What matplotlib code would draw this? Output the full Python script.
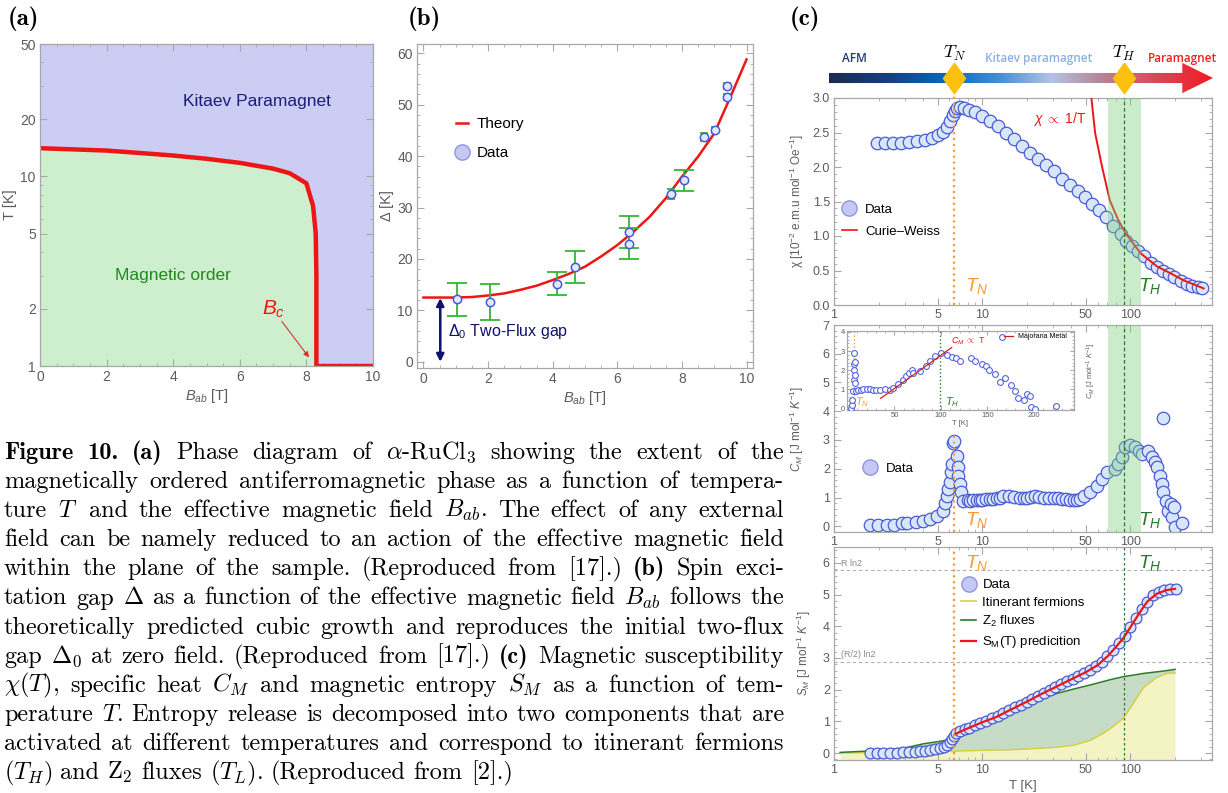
# -*- coding: utf-8 -*-
"""
Figure 10 - alpha-RuCl3: (a) phase diagram, (b) gap vs field, (c) chi / C_M / S_M vs T
"""
import numpy as np
import matplotlib
matplotlib.use("Agg")
import matplotlib.pyplot as plt
import matplotlib.transforms as mtransforms
from matplotlib.lines import Line2D
from matplotlib.patches import Polygon
from matplotlib.colors import LinearSegmentedColormap
from matplotlib.ticker import FixedLocator, NullFormatter, FormatStrFormatter, MultipleLocator

# ==============================================================================
# 1. data
# ==============================================================================
# (a) phase boundary T_c(B)
B_phase = [0, 1, 2, 3, 4, 5, 6, 7, 7.5, 8.0, 8.2, 8.28, 8.3, 8.3, 10.0]
T_phase = [14.1, 13.9, 13.7, 13.3, 12.9, 12.4, 11.8, 11.0, 10.4, 9.2, 7.0, 5.0, 3.0, 1.0, 1.0]

# (b) spin gap vs in-plane field
B_data = [1.04, 2.07, 4.13, 4.69, 6.35, 6.35, 7.65, 8.05, 8.69, 9.02, 9.38, 9.38]
gap_data = [12.2, 11.6, 15.2, 18.4, 25.3, 23.0, 32.7, 35.3, 43.7, 45.0, 53.7, 51.5]
gap_err = [3.2, 3.5, 2.3, 3.1, 3.1, 3.0, 1.0, 2.0, 0.7, 0.6, 0.6, 0.6]
B_theory = [0, 0.5, 1, 1.5, 2, 2.5, 3, 3.5, 4, 4.5, 5, 5.5, 6, 6.5, 7, 7.5, 8, 8.5, 9, 9.5, 10]
gap_theory = [12.5, 12.5, 12.5, 12.6, 12.9, 13.3, 14.0, 14.8, 15.9, 17.1, 18.5, 20.5, 22.7,
              25.3, 28.2, 31.8, 36.0, 39.9, 44.4, 51.5, 58.8]
gap0 = 12.4

# (c) characteristic temperatures
T_N = 6.5
T_H = 90.0
T_band = [71.0, 117.0]

# (c) susceptibility
T_chi = [1.95, 2.21, 2.50, 2.84, 3.21, 3.64, 4.12, 4.59, 5.04, 5.45, 5.80, 6.08, 6.37, 6.57,
         6.78, 7.10, 7.56, 8.17, 8.97, 10.0, 11.3, 12.8, 14.5, 16.5, 18.6, 21.1, 23.9, 27.1,
         30.7, 34.7, 39.3, 44.5, 49.7, 55.4, 61.8, 68.9, 76.8, 85.7, 94.0, 103, 113, 124,
         137, 150, 165, 181, 198, 218, 239, 262, 284, 306]
chi = [2.35, 2.35, 2.35, 2.35, 2.36, 2.37, 2.39, 2.42, 2.46, 2.51, 2.58, 2.66, 2.75, 2.81,
       2.85, 2.87, 2.86, 2.83, 2.79, 2.74, 2.67, 2.59, 2.50, 2.41, 2.31, 2.21, 2.12, 2.03,
       1.94, 1.83, 1.74, 1.65, 1.57, 1.47, 1.38, 1.27, 1.15, 1.03, 0.93, 0.85, 0.78, 0.71,
       0.61, 0.55, 0.50, 0.45, 0.40, 0.35, 0.31, 0.28, 0.26, 0.24]
T_cw = [54.5, 57.8, 64.4, 72.5, 82, 92.8, 117, 151, 190, 227, 312]
chi_cw = [3.0, 2.49, 2.0, 1.52, 1.25, 1.04, 0.75, 0.56, 0.45, 0.36, 0.24]

# (c) specific heat
T_cm = [1.75, 1.99, 2.27, 2.55, 2.87, 3.13, 3.58, 3.97, 4.45, 4.94, 5.42, 5.64, 5.77, 5.91,
        6.07, 6.20, 6.30, 6.40, 6.50, 6.74, 6.83, 6.90, 7.05, 7.20, 7.47, 8.0, 8.3, 8.7,
        9.2, 9.6, 10.0, 10.6, 11.2, 11.8, 12.5, 13.2, 13.9, 15.1, 16.5, 18.0, 19.0, 20.0,
        21.3, 22.8, 24.3, 26.0, 28.0, 30.3, 32.3, 34.5, 36.8, 39.3, 41.3, 43.6, 46.0, 48.5,
        53.5, 59.3, 64.4, 69.6, 79.0, 83.0, 88.0, 92.4, 100, 108, 114, 120, 132, 139, 146,
        150, 158, 163, 165, 167, 175, 179, 187, 191, 196, 200, 222]
C_cm = [0.05, 0.05, 0.04, 0.06, 0.12, 0.12, 0.14, 0.20, 0.25, 0.37, 0.54, 0.80, 1.06, 1.30,
        1.53, 1.88, 2.16, 2.88, 2.95, 2.45, 2.05, 1.76, 1.47, 1.18, 0.87, 0.90, 0.89, 0.92,
        0.93, 0.92, 0.93, 0.94, 0.95, 0.96, 0.98, 1.00, 1.04, 1.05, 1.03, 0.98, 1.00, 1.00,
        1.03, 1.04, 1.02, 1.00, 0.99, 0.98, 0.97, 0.95, 0.94, 0.93, 0.92, 0.91, 0.96, 1.06,
        1.18, 1.41, 1.64, 1.88, 1.99, 2.16, 2.40, 2.74, 2.84, 2.77, 2.63, 2.51, 2.63, 2.40,
        2.22, 2.05, 1.76, 1.47, 3.76, 1.18, 0.89, 0.54, 0.78, 0.31, 0.66, -0.03, 0.12]

# (c) inset, linear T
T_in = [3.2, 4.2, 4.9, 5.6, 6.0, 6.3, 6.7, 7.0, 7.2, 7.4, 7.7, 8.5, 11.3, 14.0, 16.5, 20.0,
        23.6, 27.0, 30.6, 34.0, 39.4, 44.7, 48.0, 53.5, 58.8, 62.3, 65.8, 69.4, 70.4, 78.0,
        83.5, 88.7, 94.0, 100, 106, 111.6, 116, 120.4, 132.7, 137, 144, 148, 152, 158.5,
        163, 165.5, 169, 175, 180, 183, 189, 192.6, 196, 197, 200.7, 223.6]
C_in = [0.05, 0.2, 0.47, 0.9, 1.5, 2.0, 2.34, 2.9, 2.45, 1.75, 1.32, 0.9, 0.95, 0.98, 1.03,
        1.03, 1.02, 0.98, 0.95, 0.95, 1.02, 0.98, 1.1, 1.27, 1.49, 1.7, 1.88, 2.0, 1.86,
        1.97, 2.2, 2.47, 2.76, 2.88, 2.8, 2.68, 2.63, 2.51, 2.63, 2.46, 2.34, 2.22, 2.0, 1.8,
        1.41, 3.73, 1.58, 1.24, 0.9, 0.54, 0.44, 0.78, 0.64, 0.07, -0.03, 0.14]
T_maj = [35.2, 111.6]
C_maj = [0.54, 3.19]
T_N_in = 6.7
T_H_in = 99.0

# (c) entropy
T_S = [1.75, 1.95, 2.15, 2.4, 2.65, 2.9, 3.2, 3.5, 3.8, 4.1, 4.45, 4.8, 5.15, 5.5, 5.8, 6.05,
       6.25, 6.45, 6.7, 7.1, 7.6, 8.2, 8.9, 9.7, 10.6, 11.6, 12.7, 13.9, 15.2, 16.6, 18.2,
       19.9, 21.8, 23.8, 26, 28.5, 31.2, 34.1, 37.3, 40.8, 44.6, 48.8, 53.4, 58.4, 63.8,
       69.8, 76.3, 83.4, 91.2, 99.7, 109, 119, 130, 142, 155, 169, 185, 202]
S_S = [0.0, 0.0, 0.0, 0.0, 0.01, 0.02, 0.03, 0.04, 0.06, 0.07, 0.09, 0.12, 0.15, 0.19, 0.26,
       0.34, 0.44, 0.55, 0.63, 0.70, 0.75, 0.80, 0.87, 0.94, 1.01, 1.09, 1.17, 1.26, 1.35,
       1.44, 1.53, 1.62, 1.71, 1.81, 1.90, 1.99, 2.08, 2.17, 2.26, 2.35, 2.44, 2.53, 2.62,
       2.74, 2.88, 3.05, 3.25, 3.47, 3.70, 3.97, 4.25, 4.53, 4.78, 4.97, 5.08, 5.14, 5.18,
       5.16]
T_pred = [6.5, 7.0, 8.0, 10, 12.5, 15, 20, 25, 30, 40, 50, 60, 70, 80, 90, 100, 115, 130,
          150, 175, 200]
S_pred = [0.58, 0.66, 0.78, 0.97, 1.14, 1.33, 1.62, 1.86, 2.04, 2.33, 2.55, 2.77, 3.05, 3.35,
          3.64, 3.97, 4.42, 4.78, 5.02, 5.14, 5.18]
T_comp = [1.1, 1.5, 2.0, 3.0, 4.0, 5.2, 6.4, 6.6, 7.5, 9.2, 11.3, 14.7, 19, 24.7, 31.9, 41.5,
          53.8, 66, 77, 90, 105, 122, 150, 176, 200]
S_z2 = [0.02, 0.05, 0.08, 0.16, 0.29, 0.37, 0.45, 0.55, 0.66, 0.84, 1.01, 1.24, 1.49, 1.70,
        1.88, 2.02, 2.15, 2.26, 2.34, 2.41, 2.46, 2.51, 2.56, 2.60, 2.64]
S_itin = [0.0, 0.01, 0.02, 0.03, 0.04, 0.05, 0.06, 0.06, 0.07, 0.08, 0.09, 0.1, 0.12, 0.15,
          0.18, 0.25, 0.4, 0.63, 0.85, 1.11, 1.58, 2.06, 2.38, 2.51, 2.53]
R_ln2 = 8.314 * np.log(2)

# caption ('§' marks bold words)
caption_lines = [
    r"§Figure §10. §(a) Phase diagram of $\alpha$-RuCl$_3$ showing the extent of the",
    r"magnetically ordered antiferromagnetic phase as a function of tempera-",
    r"ture $T$ and the effective magnetic field $B_{ab}$. The effect of any external",
    r"field can be namely reduced to an action of the effective magnetic field",
    r"within the plane of the sample. (Reproduced from [17].) §(b) Spin exci-",
    r"tation gap $\Delta$ as a function of the effective magnetic field $B_{ab}$ follows the",
    r"theoretically predicted cubic growth and reproduces the initial two-flux",
    r"gap $\Delta_0$ at zero field. (Reproduced from [17].) §(c) Magnetic susceptibility",
    r"$\chi(T)$, specific heat $C_M$ and magnetic entropy $S_M$ as a function of tem-",
    r"perature $T$. Entropy release is decomposed into two components that are",
    r"activated at different temperatures and correspond to itinerant fermions",
    r"$(T_H)$ and Z$_2$ fluxes $(T_L)$. (Reproduced from [2].)",
]

# ==============================================================================
# 2. style
# ==============================================================================
SANS = ['Liberation Sans', 'DejaVu Sans']
plt.rcParams['font.family'] = SANS
plt.rcParams['mathtext.fontset'] = 'custom'
plt.rcParams['mathtext.rm'] = 'Liberation Sans'
plt.rcParams['mathtext.it'] = 'Liberation Sans:italic'
plt.rcParams['mathtext.bf'] = 'Liberation Sans:bold'

FRAME = '#a8a8a8'
TICKC = '#5c5c5c'
RED = '#ee1515'
ORANGE = '#ff9a2e'
DKGREEN = '#2b7a2b'
PT_FACE = '#d8e6fa'
PT_EDGE = '#4a5ad6'
LEG_FACE = '#c6c8f4'
LEG_EDGE = '#9094e4'

W, H = 1228, 793
fig = plt.figure(figsize=(W / 100, H / 100), dpi=100)


def px_axes(l, t, r, b):
    return fig.add_axes([l / W, 1 - b / H, (r - l) / W, (b - t) / H])


def style(ax, fs):
    for s in ax.spines.values():
        s.set_color(FRAME)
        s.set_linewidth(0.9)
    ax.tick_params(which='both', direction='in', top=True, right=True,
                   color=FRAME, labelcolor=TICKC, labelsize=fs, pad=3)
    ax.tick_params(which='major', length=5, width=0.8)
    ax.tick_params(which='minor', length=2.5, width=0.6)


def log_T_axis(ax, fs):
    ax.set_xscale('log')
    ax.set_xlim(1, 355)
    ax.xaxis.set_major_locator(FixedLocator([1, 5, 10, 50, 100]))
    ax.xaxis.set_major_formatter(FormatStrFormatter('%g'))
    ax.xaxis.set_minor_locator(FixedLocator([2, 3, 4, 6, 7, 8, 9, 20, 30, 40, 60, 70, 80, 90, 200, 300]))
    ax.xaxis.set_minor_formatter(NullFormatter())
    style(ax, fs)


def legend_at(ax, handles, labels, x, y, fs, **kw):
    return ax.legend(handles, labels, loc='upper left', bbox_to_anchor=(x, y), frameon=False,
                     fontsize=fs, borderpad=0, borderaxespad=0, **kw)


# ==============================================================================
# 3. panel (a)
# ==============================================================================
ax_a = px_axes(40, 44, 373, 366)
ax_a.set_facecolor('#cccdf3')
ax_a.fill_between(B_phase, 1, T_phase, color='#cdefcd', lw=0)
ax_a.plot(B_phase, T_phase, color=RED, lw=3.2, solid_joinstyle='round')
ax_a.set_yscale('log')
ax_a.set_xlim(0, 10)
ax_a.set_ylim(1, 50)
ax_a.xaxis.set_major_locator(MultipleLocator(2))
ax_a.xaxis.set_minor_locator(MultipleLocator(0.5))
ax_a.yaxis.set_major_locator(FixedLocator([1, 2, 5, 10, 20, 50]))
ax_a.yaxis.set_major_formatter(FormatStrFormatter('%g'))
ax_a.yaxis.set_minor_locator(FixedLocator([3, 4, 6, 7, 8, 9, 30, 40]))
ax_a.yaxis.set_minor_formatter(NullFormatter())
style(ax_a, 10)
ax_a.set_xlabel('$B_{ab}$ [T]', color=TICKC, fontsize=10.5, labelpad=2)
ax_a.set_ylabel('T [K]', color=TICKC, fontsize=10.5, labelpad=2)
ax_a.text(6.5, 25, 'Kitaev Paramagnet', color='#1c1c7a', fontsize=12.5, ha='center', va='center')
ax_a.text(4.0, 3.0, 'Magnetic order', color='#1f8a1f', fontsize=12.5, ha='center', va='center')
ax_a.text(7.0, 2.0, '$B_c$', color=RED, fontsize=15, ha='center', va='center')
ax_a.annotate('', xy=(8.08, 1.11), xytext=(7.26, 1.72),
              arrowprops=dict(arrowstyle='-|>', color='#e03030', lw=0.8, mutation_scale=8,
                              shrinkA=0, shrinkB=0))

# ==============================================================================
# 4. panel (b)
# ==============================================================================
ax_b = px_axes(417, 44, 753, 368)
ax_b.plot(B_theory, gap_theory, color=RED, lw=1.8, zorder=2)
big = [e > 1.5 for e in gap_err]
for sel, cap in ((True, 7.5), (False, 3.0)):
    xs = [b for b, k in zip(B_data, big) if k == sel]
    ys = [g for g, k in zip(gap_data, big) if k == sel]
    es = [e for e, k in zip(gap_err, big) if k == sel]
    ax_b.errorbar(xs, ys, yerr=es, fmt='none', ecolor='#33b833', elinewidth=1.3,
                  capsize=cap, capthick=1.3, zorder=3)
ax_b.plot(B_data, gap_data, ls='', marker='o', ms=6, mfc='#e0e9fb', mec=PT_EDGE, mew=1.1, zorder=4)
ax_b.set_xlim(-0.2, 10.2)
ax_b.set_ylim(-1.2, 61.8)
ax_b.xaxis.set_major_locator(MultipleLocator(2))
ax_b.xaxis.set_minor_locator(MultipleLocator(0.5))
ax_b.yaxis.set_major_locator(MultipleLocator(10))
ax_b.yaxis.set_minor_locator(MultipleLocator(2))
style(ax_b, 10)
ax_b.set_xlabel('$B_{ab}$ [T]', color=TICKC, fontsize=10.5, labelpad=2)
ax_b.set_ylabel('Δ [K]', color=TICKC, fontsize=10.5, labelpad=2)
ax_b.annotate('', xy=(0.52, 0), xytext=(0.52, gap0),
              arrowprops=dict(arrowstyle='<|-|>', color='#10106e', lw=1.8, mutation_scale=11,
                              shrinkA=0, shrinkB=0))
ax_b.text(0.77, 5.9, r'$\Delta_0$ Two-Flux gap', color='#10106e', fontsize=11.5, va='center')
legend_at(ax_b,
          [Line2D([], [], color=RED, lw=1.8),
           Line2D([], [], ls='', marker='o', ms=11, mfc=LEG_FACE, mec=LEG_EDGE)],
          ['Theory', 'Data'], 0.115, 0.775, 11, handlelength=0.8, handletextpad=0.6,
          labelspacing=1.0)

# ==============================================================================
# 5. panel (c) - phase bar
# ==============================================================================
ax_chi = px_axes(834, 98, 1212, 305)
ax_bar = px_axes(829, 60, 1213, 96)
ax_bar.set_xlim(0, 1)
ax_bar.set_ylim(0, 1)
ax_bar.axis('off')
bar_cmap = LinearSegmentedColormap.from_list('phase', [
    (0.0, '#1b2a52'), (0.15, '#143f7e'), (0.32, '#0a6cc0'), (0.45, '#4b90d4'),
    (0.58, '#b2c3e6'), (0.70, '#b48a9c'), (0.85, '#d9495a'), (1.0, '#f21a22')])
arrow = Polygon([(0, 0.36), (0.92, 0.36), (0.92, 0.08), (1.0, 0.5), (0.92, 0.92),
                 (0.92, 0.64), (0, 0.64)], closed=True, transform=ax_bar.transAxes,
                facecolor='none', edgecolor='none')
ax_bar.add_patch(arrow)
grad = ax_bar.imshow(np.linspace(0, 1, 256).reshape(1, -1), cmap=bar_cmap, aspect='auto',
                     extent=(0, 1, 0.05, 0.95), interpolation='bilinear')
grad.set_clip_path(arrow)
trans_T = mtransforms.blended_transform_factory(ax_chi.transData, ax_bar.transAxes)
diamond = [(0, 1), (0.72, 0), (0, -1), (-0.72, 0), (0, 1)]
ax_bar.plot([T_N, T_H], [0.5, 0.5], ls='', marker=diamond, ms=22, mfc='#fcc00e', mec='#fcc00e',
            transform=trans_T, clip_on=False, zorder=5)
bar_font = ['Open Sans', 'Liberation Sans', 'DejaVu Sans']
ax_bar.text(0.065, 1.05, 'AFM', color='#1e3a78', fontsize=8.5, fontweight='semibold',
            family=bar_font, ha='center', va='center', transform=ax_bar.transAxes)
ax_bar.text(0.545, 1.05, 'Kitaev paramagnet', color='#8eb0e6', fontsize=8.5,
            fontweight='semibold', family=bar_font, ha='center', va='center',
            transform=ax_bar.transAxes)
ax_bar.text(0.92, 1.05, 'Paramagnet', color='#f02020', fontsize=8.5, fontweight='semibold',
            family=bar_font, ha='center', va='center', transform=ax_bar.transAxes)
for t_val, lab in ((T_N, '$T_N$'), (T_H, '$T_H$')):
    ax_bar.text(t_val, 1.18, lab, fontsize=13, ha='center', va='center', transform=trans_T,
                math_fontfamily='cm')

# ==============================================================================
# 6. panel (c) - susceptibility
# ==============================================================================
ax_chi.plot(T_chi, chi, ls='', marker='o', ms=9, mfc=PT_FACE, mec=PT_EDGE, mew=0.9, zorder=2)
ax_chi.plot(T_cw, chi_cw, color=RED, lw=1.4, zorder=3)
ax_chi.axvspan(*T_band, color='#7fd07f', alpha=0.4, lw=0, zorder=4)
ax_chi.axvline(T_H, color=DKGREEN, ls=(0, (3, 2)), lw=0.9, zorder=5)
ax_chi.axvline(T_N, color=ORANGE, ls=':', lw=1.6, ymax=1.03, clip_on=False, zorder=5)
log_T_axis(ax_chi, 9)
ax_chi.set_ylim(0, 3.0)
ax_chi.yaxis.set_major_locator(MultipleLocator(0.5))
ax_chi.yaxis.set_major_formatter(FormatStrFormatter('%.1f'))
ax_chi.yaxis.set_minor_locator(MultipleLocator(0.1))
ax_chi.set_ylabel('χ [10$^{-2}$ e.m.u mol$^{-1}$ Oe$^{-1}$]', color=TICKC, fontsize=8.5)
ax_chi.yaxis.set_label_coords(-0.075, 0.5)
ax_chi.text(7.6, 0.27, '$T_N$', color=ORANGE, fontsize=14, va='center')
ax_chi.text(112, 0.27, '$T_H$', color=DKGREEN, fontsize=14, va='center')
ax_chi.text(22, 2.69, r'$\chi\ \propto$ 1/T', color=RED, fontsize=10, va='center')
legend_at(ax_chi,
          [Line2D([], [], ls='', marker='o', ms=11, mfc=LEG_FACE, mec=LEG_EDGE),
           Line2D([], [], color=RED, lw=1.2)],
          ['Data', 'Curie–Weiss'], 0.02, 0.49, 9.5, handlelength=1.2, handletextpad=0.6,
          labelspacing=0.75)

# ==============================================================================
# 7. panel (c) - specific heat + inset
# ==============================================================================
ax_cm = px_axes(834, 325, 1212, 532)
ax_cm.plot(T_cm, C_cm, ls='', marker='o', ms=9, mfc=PT_FACE, mec=PT_EDGE, mew=0.9, zorder=2)
ax_cm.axvspan(*T_band, color='#7fd07f', alpha=0.4, lw=0, zorder=4)
ax_cm.axvline(T_H, color=DKGREEN, ls=(0, (3, 2)), lw=0.9, zorder=5)
ax_cm.vlines(T_N, -0.2, 3.2, color=ORANGE, ls=':', lw=1.6, zorder=5)
log_T_axis(ax_cm, 9)
ax_cm.set_ylim(-0.2, 7.0)
ax_cm.yaxis.set_major_locator(MultipleLocator(1))
ax_cm.yaxis.set_minor_locator(MultipleLocator(0.2))
ax_cm.set_ylabel('$C_M$ [J mol$^{-1}$ $K^{-1}$]', color=TICKC, fontsize=8.5)
ax_cm.yaxis.set_label_coords(-0.075, 0.5)
ax_cm.text(7.6, 0.2, '$T_N$', color=ORANGE, fontsize=14, va='center')
ax_cm.text(112, 0.2, '$T_H$', color=DKGREEN, fontsize=14, va='center')
legend_at(ax_cm,
          [Line2D([], [], ls='', marker='o', ms=11, mfc=LEG_FACE, mec=LEG_EDGE)],
          ['Data'], 0.075, 0.335, 9.5, handlelength=1.2, handletextpad=0.6)

ax_in = px_axes(847, 331, 1074, 410)
ax_in.plot(T_in, C_in, ls='', marker='o', ms=4.2, mfc='white', mec='#5566dd', mew=0.8, zorder=3)
ax_in.plot(T_maj, C_maj, color='#cc2222', lw=0.9, zorder=4)
ax_in.axvline(T_N_in, color=ORANGE, ls=':', lw=1.0)
ax_in.axvline(T_H_in, color=DKGREEN, ls=':', lw=1.0)
ax_in.set_xlim(-1, 243)
ax_in.set_ylim(-0.07, 4.05)
ax_in.xaxis.set_major_locator(FixedLocator([50, 100, 150, 200]))
ax_in.xaxis.set_minor_locator(MultipleLocator(10))
ax_in.yaxis.set_major_locator(MultipleLocator(1))
ax_in.yaxis.set_minor_locator(MultipleLocator(0.2))
style(ax_in, 5.5)
ax_in.tick_params(which='major', length=3, pad=1.5)
ax_in.tick_params(which='minor', length=1.5)
ax_in.set_xlabel('T [K]', color=TICKC, fontsize=5.5, labelpad=1)
ax_in.set_ylabel('$C_M$ [J mol$^{-1}$ $K^{-1}$]', color=TICKC, fontsize=5.5)
ax_in.yaxis.set_label_position('right')
ax_in.yaxis.set_label_coords(1.045, 0.5)
ax_in.text(8, 0.32, '$T_N$', color=ORANGE, fontsize=8, va='center')
ax_in.text(104, 0.32, '$T_H$', color=DKGREEN, fontsize=8, va='center')
ax_in.text(111, 3.5, r'$C_M\ \propto$ T', color=RED, fontsize=6.5, va='center')
ax_in.legend([Line2D([], [], color='#cc2222', lw=0.9)], ['Majorana Metal'], loc='upper right',
             bbox_to_anchor=(0.97, 0.97), frameon=False, fontsize=5, handlelength=1.2,
             borderpad=0, borderaxespad=0)

# ==============================================================================
# 8. panel (c) - entropy
# ==============================================================================
ax_s = px_axes(834, 547, 1212, 760)
S_floor = -0.22
ax_s.fill_between(T_comp, S_floor, S_itin, color='#f3f3c3', lw=0, zorder=1)
ax_s.fill_between(T_comp, S_itin, S_z2, color='#c6dcc6', lw=0, zorder=1)
ax_s.plot(T_comp, S_itin, color='#d3d23a', lw=1.0, zorder=2)
ax_s.plot(T_comp, S_z2, color=DKGREEN, lw=1.1, zorder=2)
ax_s.axhline(R_ln2, color='#b0b0b0', ls=(0, (3, 2.5)), lw=0.8, zorder=1)
ax_s.axhline(R_ln2 / 2, color='#b0b0b0', ls=(0, (3, 2.5)), lw=0.8, zorder=1)
ax_s.plot(T_S, S_S, ls='', marker='o', ms=7.8, mfc=PT_FACE, mec=PT_EDGE, mew=0.9, zorder=3)
ax_s.plot(T_pred, S_pred, color=RED, lw=1.6, zorder=4)
ax_s.axvline(T_N, color=ORANGE, ls=':', lw=1.6, zorder=5)
ax_s.axvline(T_H, color=DKGREEN, ls=(0, (2, 2)), lw=0.9, zorder=5)
log_T_axis(ax_s, 9)
ax_s.set_ylim(S_floor, 6.5)
ax_s.yaxis.set_major_locator(MultipleLocator(1))
ax_s.yaxis.set_minor_locator(MultipleLocator(0.2))
ax_s.set_ylabel('$S_M$ [J mol$^{-1}$ $K^{-1}$]', color=TICKC, fontsize=8.5)
ax_s.yaxis.set_label_coords(-0.055, 0.5)
ax_s.set_xlabel('T [K]', color=TICKC, fontsize=9.5, labelpad=3)
ax_s.text(1.12, R_ln2 + 0.08, 'R ln2', color='#8a8a8a', fontsize=6.5, va='bottom')
ax_s.text(1.12, R_ln2 / 2 + 0.08, '(R/2) ln2', color='#8a8a8a', fontsize=6.5, va='bottom')
ax_s.text(7.6, 6.0, '$T_N$', color=ORANGE, fontsize=14, va='center')
ax_s.text(112, 6.0, '$T_H$', color=DKGREEN, fontsize=14, va='center')
legend_at(ax_s,
          [Line2D([], [], ls='', marker='o', ms=11, mfc=LEG_FACE, mec=LEG_EDGE),
           Line2D([], [], color='#d3d23a', lw=1.2),
           Line2D([], [], color=DKGREEN, lw=1.2),
           Line2D([], [], color=RED, lw=1.6)],
          ['Data', 'Itinerant fermions', 'Z$_2$ fluxes', 'S$_\\mathrm{M}$(T) predicition'],
          0.335, 0.85, 9.5, handlelength=1.2, handletextpad=0.45, labelspacing=0.4)

# ==============================================================================
# 9. panel letters and caption
# ==============================================================================
for x_px, lab in ((8, '(a)'), (408, '(b)'), (790, '(c)')):
    fig.text(x_px / W, 1 - 19 / H, lab, family='cmb10', fontsize=18, va='center')

renderer = fig.canvas.get_renderer()
cap_left, cap_right = 4, 784
for i, line in enumerate(caption_lines):
    y = 1 - (459 + 29.1 * i) / H
    words = []
    for w in line.split(' '):
        bold = w.startswith('§')
        words.append(fig.text(0, y, w.lstrip('§'), family='cmb10' if bold else 'cmr10',
                              math_fontfamily='cm', fontsize=17.5, va='baseline'))
    widths = [t.get_window_extent(renderer).width for t in words]
    if i == len(caption_lines) - 1:
        gap = 0.33 * 17.5 * 100 / 72
    else:
        gap = (cap_right - cap_left - sum(widths)) / (len(words) - 1)
    x = cap_left
    for t, w in zip(words, widths):
        t.set_x(x / W)
        x += w + gap

fig.savefig('out.png', dpi=100)
